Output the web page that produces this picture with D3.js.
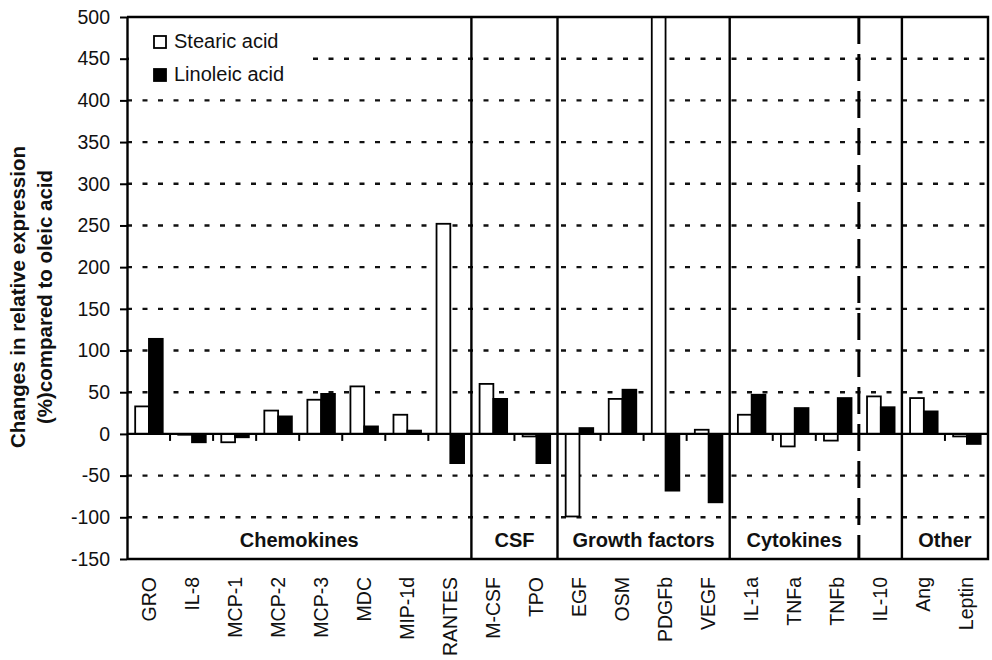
<!DOCTYPE html>
<html>
<head>
<meta charset="utf-8">
<script src="https://cdn.jsdelivr.net/npm/d3@7"></script>
<style>
  body { margin: 0; background: #fff; }
  text { font-family: Arial, "Liberation Sans", sans-serif; fill: #111; }
</style>
</head>
<body>
<div id="chart-area"></div>
<script>
// categories along the x axis
var categories = ['GRO', 'IL-8', 'MCP-1', 'MCP-2', 'MCP-3', 'MDC', 'MIP-1d', 'RANTES',
    'M-CSF', 'TPO', 'EGF', 'OSM', 'PDGFb', 'VEGF', 'IL-1a', 'TNFa', 'TNFb', 'IL-10', 'Ang', 'Leptin']
var series = ['Stearic acid', 'Linoleic acid']
// % change vs oleic acid
var stearic = [33, -1, -10, 28, 41, 57, 23, 252, 60, -3, -99, 42, 520, 5, 23, -15, -8, 45, 43, -3]
var linoleic = [114, -10, -4, 21, 48, 9, 4, -35, 42, -35, 7, 53, -68, -82, 47, 31, 43, 32, 27, -12]
var yTicks = [-150, -100, -50, 0, 50, 100, 150, 200, 250, 300, 350, 400, 450, 500]
// groups: name, first category, last category
var groups = [
    { name: 'Chemokines', from: 'GRO', to: 'RANTES' },
    { name: 'CSF', from: 'M-CSF', to: 'TPO' },
    { name: 'Growth factors', from: 'EGF', to: 'VEGF' },
    { name: 'Cytokines', from: 'IL-1a', to: 'TNFb' },
    { name: 'Other', from: 'Ang', to: 'Leptin' }
]
var solidSeparators = ['M-CSF', 'EGF', 'IL-1a', 'Ang']
var dashedSeparators = ['IL-10']

var W = 992, H = 660
var margin = { left: 127, right: 4, top: 17, bottom: 101 }
var width = W - margin.left - margin.right
var height = H - margin.top - margin.bottom

var svg = d3.select('#chart-area').append('svg')
    .attr('width', W)
    .attr('height', H)

var g = svg.append('g')
    .attr('transform', 'translate(' + margin.left + ',' + margin.top + ')')

var x0 = d3.scaleBand().domain(categories).range([0, width]).padding(0)
var x1 = d3.scaleBand().domain(series)
    .range([x0.bandwidth() * 0.19, x0.bandwidth() * 0.83])
var y = d3.scaleLinear().domain([-150, 500]).range([height, 0])

svg.append('clipPath').attr('id', 'plotclip')
    .append('rect').attr('x', 0).attr('y', 0).attr('width', width).attr('height', height)

// dashed gridlines
g.selectAll('.grid').data(yTicks.filter(function(d) { return d != 0 && d != -150 && d != 500 }))
    .enter().append('line')
    .attr('class', 'grid')
    .attr('x1', 0).attr('x2', width)
    .attr('y1', function(d) { return y(d) }).attr('y2', function(d) { return y(d) })
    .attr('stroke', '#111')
    .attr('stroke-width', 2.4)
    .attr('stroke-dasharray', '5,10.5')

// legend background hides part of the grid
g.append('rect')
    .attr('x', 2).attr('y', 4).attr('width', 178).attr('height', 72)
    .attr('fill', '#fff')

// bars
var rows = categories.map(function(c, i) {
    return { cat: c, vals: [{ s: series[0], v: stearic[i] }, { s: series[1], v: linoleic[i] }] }
})
var bars = g.append('g').attr('clip-path', 'url(#plotclip)')
bars.selectAll('g').data(rows).enter().append('g')
    .attr('transform', function(d) { return 'translate(' + x0(d.cat) + ',0)' })
    .selectAll('rect').data(function(d) { return d.vals }).enter().append('rect')
    .attr('x', function(d) { return x1(d.s) })
    .attr('width', x1.bandwidth())
    .attr('y', function(d) { return y(Math.max(0, d.v)) })
    .attr('height', function(d) { return Math.abs(y(d.v) - y(0)) })
    .attr('fill', function(d) { return d.s == series[0] ? '#fff' : '#000' })
    .attr('stroke', '#000')
    .attr('stroke-width', 1.8)

// zero line
g.append('line')
    .attr('x1', 0).attr('x2', width)
    .attr('y1', y(0)).attr('y2', y(0))
    .attr('stroke', '#000').attr('stroke-width', 2.2)

// small ticks below zero line at category boundaries
var boundaries = categories.slice(1).filter(function(c) {
    return solidSeparators.indexOf(c) < 0 && dashedSeparators.indexOf(c) < 0
})
g.selectAll('.btick').data(boundaries).enter().append('line')
    .attr('class', 'btick')
    .attr('x1', function(d) { return x0(d) }).attr('x2', function(d) { return x0(d) })
    .attr('y1', y(0)).attr('y2', y(0) + 7)
    .attr('stroke', '#000').attr('stroke-width', 2)

// group separators
g.selectAll('.sep').data(solidSeparators).enter().append('line')
    .attr('class', 'sep')
    .attr('x1', function(d) { return x0(d) }).attr('x2', function(d) { return x0(d) })
    .attr('y1', 0).attr('y2', height)
    .attr('stroke', '#000').attr('stroke-width', 2.4)
g.selectAll('.dsep').data(dashedSeparators).enter().append('line')
    .attr('class', 'dsep')
    .attr('x1', function(d) { return x0(d) }).attr('x2', function(d) { return x0(d) })
    .attr('y1', 0).attr('y2', height)
    .attr('stroke', '#000').attr('stroke-width', 3)
    .attr('stroke-dasharray', '27,10')

// frame (top, right, bottom)
g.append('path')
    .attr('d', 'M0,0H' + width + 'V' + height + 'H0')
    .attr('fill', 'none').attr('stroke', '#000').attr('stroke-width', 2.4)

// group labels
g.selectAll('.glabel').data(groups).enter().append('text')
    .attr('class', 'glabel')
    .attr('x', function(d) { return (x0(d.from) + x0(d.to) + x0.bandwidth()) / 2 })
    .attr('y', height - 12)
    .attr('text-anchor', 'middle')
    .style('font-weight', 'bold')
    .style('font-size', '20px')
    .text(function(d) { return d.name })

// y axis (plain hyphen for negatives, as in the original)
var yAxis = g.append('g')
    .call(d3.axisLeft(y).tickValues(yTicks).tickSize(7).tickPadding(10).tickSizeOuter(0)
        .tickFormat(function(d) { return String(d) }))
yAxis.selectAll('path').attr('stroke', '#000').attr('stroke-width', 2.4)
yAxis.selectAll('line').attr('stroke', '#000').attr('stroke-width', 2)
yAxis.selectAll('text')
    .style('font-size', '19.5px')
    .style('font-family', 'Arial, "Liberation Sans", sans-serif')
    .attr('fill', '#111')

// x category labels
g.selectAll('.xlabel').data(categories).enter().append('text')
    .attr('class', 'xlabel')
    .attr('transform', function(d) {
        return 'translate(' + (x0(d) + x0.bandwidth() / 2 + 7) + ',' + (height + 18) + ') rotate(-90)'
    })
    .attr('text-anchor', 'end')
    .style('font-size', '19.5px')
    .text(function(d) { return d })

// y axis title
var title = svg.append('text')
    .attr('transform', 'translate(25,297) rotate(-90)')
    .attr('text-anchor', 'middle')
    .style('font-weight', 'bold')
    .style('font-size', '20.5px')
title.append('tspan').attr('x', 0).attr('dy', 0).text('Changes in relative expression')
title.append('tspan').attr('x', 0).attr('dy', 27).text('(%)compared to oleic acid')

// legend
var legend = g.append('g').attr('transform', 'translate(27,19)')
series.forEach(function(s, i) {
    legend.append('rect')
        .attr('x', 0).attr('y', i * 33)
        .attr('width', 12).attr('height', 12)
        .attr('fill', i == 0 ? '#fff' : '#000')
        .attr('stroke', '#000').attr('stroke-width', 1.8)
    legend.append('text')
        .attr('x', 20).attr('y', i * 33 + 12)
        .style('font-size', '20px')
        .text(s)
})
</script>
</body>
</html>
